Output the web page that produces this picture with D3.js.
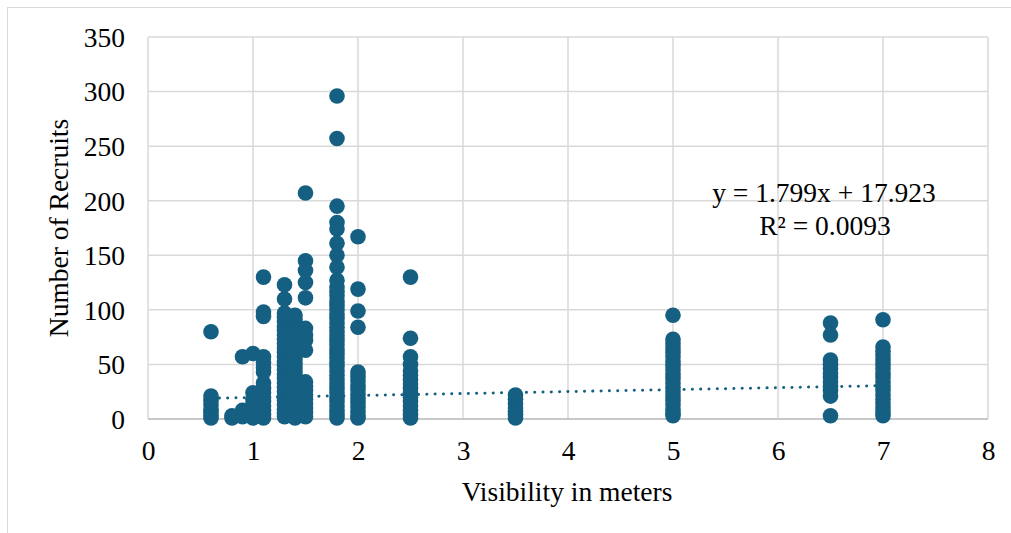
<!DOCTYPE html>
<html><head><meta charset="utf-8">
<script src="https://cdn.jsdelivr.net/npm/d3@7"></script>
<style>body{margin:0;background:#fff}svg{display:block}text{font-family:"Liberation Serif","Times New Roman",serif;fill:#000}</style>
</head><body><svg id="c" width="1011" height="533"></svg>
<script>
const xTicks = [0,1,2,3,4,5,6,7,8];
const yTicks = [0,50,100,150,200,250,300,350];
const visibilityLevels = [0.6, 0.8, 0.9, 1.0, 1.1, 1.3, 1.4, 1.5, 1.8, 2.0, 2.5, 3.5, 5, 6.5, 7];
const recruits06 = [80, 21, 17, 13, 9, 6, 3, 1];
const recruits08 = [3, 1];
const recruits09 = [57, 8, 5, 2];
const recruits10 = [60, 24, 18, 14, 10, 6, 3, 1];
const recruits11 = [130, 98, 94, 57, 52, 47, 43, 33, 28, 24, 20, 16, 12, 8, 4, 1];
const recruits13 = [123, 110, 97, 93, 89, 85, 81, 77, 73, 69, 65, 61, 57, 53, 49, 45, 41, 37, 33, 29, 25, 21, 17, 13, 9, 5, 2];
const recruits14 = [95, 91, 87, 83, 79, 75, 71, 67, 63, 59, 55, 51, 47, 43, 39, 35, 31, 27, 23, 19, 15, 11, 7, 3, 1];
const recruits15 = [207, 145, 136, 125, 111, 83, 77, 72, 63, 34, 30, 26, 22, 18, 14, 10, 6, 2];
const recruits18 = [296, 257, 195, 180, 174, 161, 150, 139, 127, 121, 117, 113, 108, 104, 100, 96, 92, 88, 84, 80, 76, 72, 68, 64, 60, 56, 52, 48, 44, 40, 36, 32, 28, 24, 20, 16, 12, 8, 4, 1];
const recruits20 = [167, 119, 99, 84, 43, 39, 35, 31, 27, 23, 19, 15, 11, 7, 3, 1];
const recruits25 = [130, 74, 57, 50, 44, 40, 36, 32, 28, 24, 20, 16, 12, 8, 4, 1];
const recruits35 = [22, 18, 14, 10, 7, 4, 1];
const recruits50 = [95, 73, 69, 65, 61, 57, 53, 49, 45, 41, 37, 33, 29, 25, 21, 17, 13, 9, 5, 3];
const recruits65 = [88, 77, 54, 50, 46, 42, 38, 34, 30, 26, 21, 3];
const recruits70 = [91, 66, 62, 58, 54, 50, 46, 42, 38, 34, 30, 26, 22, 18, 14, 10, 6, 3];
const recruitsByLevel = [recruits06, recruits08, recruits09, recruits10, recruits11, recruits13, recruits14, recruits15, recruits18, recruits20, recruits25, recruits35, recruits50, recruits65, recruits70];
const trendSlope = 1.799, trendIntercept = 17.923;
const equationText = "y = 1.799x + 17.923";
const r2Text = "R² = 0.0093";

const points = [];
visibilityLevels.forEach((v, i) => recruitsByLevel[i].forEach(r => points.push({x: v, y: r})));

const svg = d3.select("#c");
const color = "#156082";
const L = 148, R = 988, T = 37, B = 419;
const x = d3.scaleLinear().domain([0, 8]).range([L, R]);
const y = d3.scaleLinear().domain([0, 350]).range([B, T]);

svg.append("rect").attr("x", 7.5).attr("y", 7.5).attr("width", 1010).attr("height", 530)
  .attr("fill", "none").attr("stroke", "#d9d9d9").attr("stroke-width", 1);

svg.append("g").selectAll("line").data(yTicks).join("line")
  .attr("x1", L).attr("x2", R).attr("y1", d => y(d)).attr("y2", d => y(d))
  .attr("stroke", "#d9d9d9").attr("stroke-width", 1.5);
svg.append("g").selectAll("line").data(xTicks).join("line")
  .attr("y1", T).attr("y2", B).attr("x1", d => x(d)).attr("x2", d => x(d))
  .attr("stroke", "#d9d9d9").attr("stroke-width", 1.5);
svg.append("line").attr("x1", L).attr("x2", R).attr("y1", B).attr("y2", B)
  .attr("stroke", "#bfbfbf").attr("stroke-width", 1.5);

const fs = 27.5;
const gy = svg.append("g").attr("transform", `translate(${L - 23},0)`)
  .call(d3.axisLeft(y).tickValues(yTicks).tickSize(0).tickPadding(0));
gy.select(".domain").remove();
gy.selectAll("text").style("font-size", fs + "px").style("font-family", '"Liberation Serif",serif').attr("fill", "#000").attr("dy", "0.34em");

const gx = svg.append("g").attr("transform", `translate(0,${B + 22})`)
  .call(d3.axisBottom(x).tickValues(xTicks).tickSize(0).tickPadding(0));
gx.select(".domain").remove();
gx.selectAll("text").style("font-size", fs + "px").style("font-family", '"Liberation Serif",serif').attr("fill", "#000").attr("dy", "0.68em");

svg.append("g").selectAll("circle").data(points).join("circle")
  .attr("cx", d => x(d.x)).attr("cy", d => y(d.y)).attr("r", 7.8).attr("fill", color);

const xMin = d3.min(visibilityLevels), xMax = d3.max(visibilityLevels);
svg.append("line")
  .attr("x1", x(xMin)).attr("y1", y(trendSlope * xMin + trendIntercept))
  .attr("x2", x(xMax)).attr("y2", y(trendSlope * xMax + trendIntercept))
  .attr("stroke", color).attr("stroke-width", 3).attr("stroke-linecap", "round")
  .attr("stroke-dasharray", "0.1 8.2");

svg.append("text").attr("x", 824).attr("y", 202).attr("text-anchor", "middle").style("font-size", fs + "px").text(equationText);
svg.append("text").attr("x", 825).attr("y", 235).attr("text-anchor", "middle").style("font-size", fs + "px").text(r2Text);

svg.append("text").attr("x", 567).attr("y", 501).attr("text-anchor", "middle").style("font-size", fs + "px").text("Visibility in meters");
svg.append("text").attr("transform", "translate(68,228) rotate(-90)").attr("text-anchor", "middle").style("font-size", fs + "px").text("Number of Recruits");
</script></body></html>
